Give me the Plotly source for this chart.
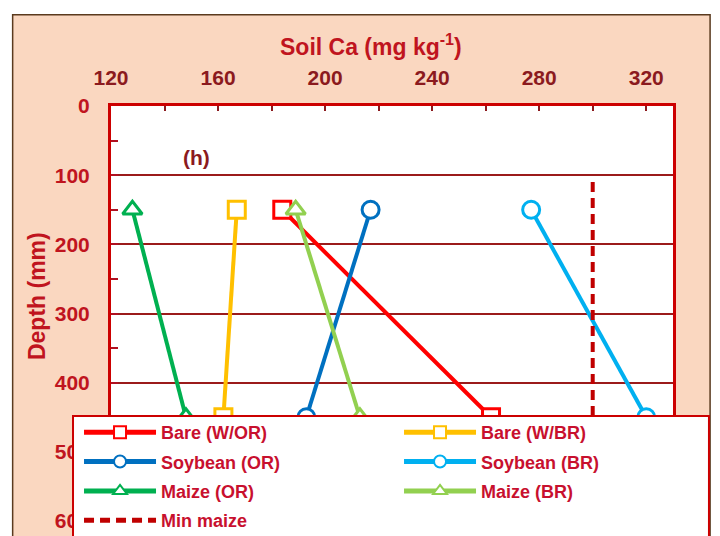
import plotly.graph_objects as go

# Depths (mm) at which soil Ca was sampled
depth = [150, 450]

# Soil Ca (mg kg-1) per treatment, top then bottom sample
bare_wor = [184, 262]
bare_wbr = [167, 162]
soy_or = [217, 193]
soy_br = [277, 320]
maize_or = [128, 148]
maize_br = [189, 213]

# Minimum Ca requirement for maize
min_maize_ca = [300, 300]
min_maize_depth = [110, 600]

# name, values, colour, marker, legend column
series = [
    ('Bare (W/OR)', bare_wor, '#FF0000', 'square', 'legend'),
    ('Bare (W/BR)', bare_wbr, '#FFC000', 'square', 'legend2'),
    ('Soybean (OR)', soy_or, '#0070C0', 'circle', 'legend'),
    ('Soybean (BR)', soy_br, '#00B0F0', 'circle', 'legend2'),
    ('Maize (OR)', maize_or, '#00B050', 'triangle-up', 'legend'),
    ('Maize (BR)', maize_br, '#92D050', 'triangle-up', 'legend2'),
]

FONT = 'Liberation Sans, Arial, sans-serif'
RED = '#C0141E'
MAROON = '#8B1A1E'

fig = go.Figure()

for name, ca, color, symbol, leg in series:
    fig.add_trace(go.Scatter(
        x=ca, y=depth, name=name, mode='lines+markers',
        legend=leg, legendgroup=name,
        line=dict(color=color, width=4),
        marker=dict(symbol=symbol, size=17, color='white',
                    line=dict(color=color, width=3))
    ))

fig.add_trace(go.Scatter(
    x=min_maize_ca, y=min_maize_depth, name='Min maize', mode='lines',
    legend='legend', legendgroup='Min maize',
    line=dict(color='#C00000', width=4, dash='10px,6px')
))

# Beige frame behind everything, white plot area on top of it
fig.add_shape(type='rect', xref='paper', yref='paper',
              x0=-0.175, x1=1.066, y0=-0.05, y1=1.22,
              fillcolor='#FAD7C0', line=dict(color='#5A3A1E', width=1.5),
              layer='below')
fig.add_shape(type='rect', xref='x domain', yref='y domain',
              x0=0, x1=1, y0=0, y1=1,
              fillcolor='white', line=dict(width=0), layer='below')
# Legend box, drawn over the lower part of the plot
fig.add_shape(type='rect', xref='paper', yref='paper',
              x0=-0.0676, x1=1.064, y0=-0.06, y1=0.253,
              fillcolor='white', line=dict(color='#CC0000', width=2),
              layer='above')

fig.add_annotation(x=0.4626, y=1.147, xref='paper', yref='paper',
                   xanchor='center', yanchor='middle',
                   text='Soil Ca (mg kg<sup>-1</sup>)', showarrow=False,
                   font=dict(family=FONT, size=23, color=RED, weight='bold'))
fig.add_annotation(x=-0.1317, y=0.542, xref='paper', yref='paper',
                   xanchor='center', yanchor='middle',
                   text='Depth (mm)', textangle=-90, showarrow=False,
                   font=dict(family=FONT, size=23, color=RED, weight='bold'))
fig.add_annotation(x=152, y=74, text='(h)', showarrow=False,
                   font=dict(family=FONT, size=21, color=MAROON, weight='bold'))

fig.update_xaxes(
    side='top', range=[120, 330], dtick=40, tick0=120,
    showgrid=False, zeroline=False,
    showline=True, mirror=True, linecolor='#CC0000', linewidth=3,
    ticks='inside', ticklen=5, tickwidth=2, tickcolor=MAROON,
    minor=dict(dtick=20, ticks='inside', ticklen=5, tickwidth=2, tickcolor=MAROON),
    ticklabelstandoff=10,
    tickfont=dict(family=FONT, size=21, color=MAROON, weight='bold')
)
fig.update_yaxes(
    range=[600, 0], dtick=100, tick0=0,
    showgrid=True, gridcolor='#9B1B1B', gridwidth=2, zeroline=False,
    showline=True, mirror=True, linecolor='#CC0000', linewidth=3,
    ticks='inside', ticklen=7, tickwidth=2, tickcolor='#B01020',
    minor=dict(dtick=50, ticks='inside', ticklen=7, tickwidth=2, tickcolor='#B01020',
               showgrid=False),
    ticklabelstandoff=14,
    tickfont=dict(family=FONT, size=21, color=RED, weight='bold')
)

legend_style = dict(
    orientation='v', yanchor='top', xanchor='left', y=0.258,
    bgcolor='rgba(0,0,0,0)', borderwidth=0,
    itemwidth=72, itemsizing='constant',
    traceorder='grouped', tracegroupgap=3,
    font=dict(family=FONT, size=18, color='#C8102E', weight='bold')
)

# the page puts the plot 8px in from the top-left corner, so the figure
# is 8px smaller and the left/top margins are 8px less
fig.update_layout(
    width=712, height=528,
    margin=dict(l=103, r=47, t=98, b=15, autoexpand=False),
    paper_bgcolor='white', plot_bgcolor='white',
    font=dict(family=FONT),
    showlegend=True,
    legend=dict(x=-0.0569, **legend_style),
    legend2=dict(x=0.5125, **legend_style)
)

fig.write_html('out.html')
